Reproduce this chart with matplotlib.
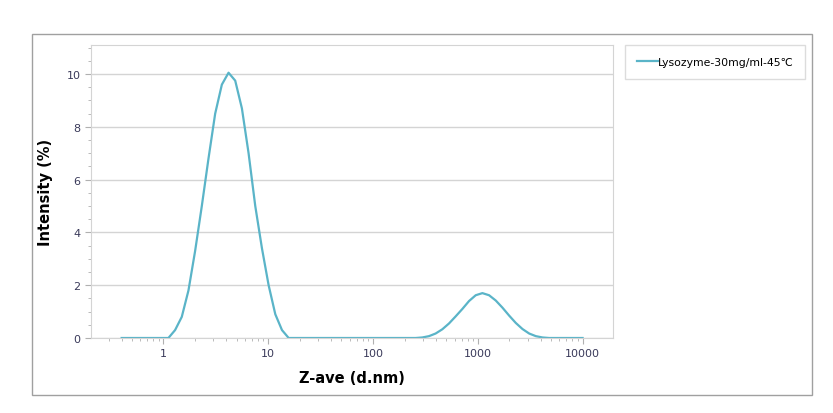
import matplotlib.pyplot as plt
import numpy as np
from matplotlib.patches import Rectangle
from matplotlib.ticker import FixedLocator, MultipleLocator

plt.rcParams['font.family'] = 'Noto Sans CJK SC'

# 70 size bins, 0.4 .. 10000 nm (instrument classes)
sizes = np.geomspace(0.4, 10000, 70)

peak1 = [0.0, 0.3, 0.8, 1.8, 3.3, 5.0, 6.8, 8.5, 9.6, 10.05, 9.75, 8.7,
         7.0, 5.0, 3.4, 2.0, 0.9, 0.3, 0.0]
peak2 = [0.0, 0.02, 0.07, 0.17, 0.33, 0.55, 0.82, 1.1, 1.4, 1.62, 1.7,
         1.62, 1.42, 1.15, 0.85, 0.57, 0.34, 0.17, 0.07, 0.02, 0.0]
intensity = [0.0] * 7 + peak1 + [0.0] * 18 + peak2 + [0.0] * 5

label = "Lysozyme-30mg/ml-45℃"
line_color = '#5ab4c8'
grid_color = '#d4d4d4'
tick_color = '#3a3a5a'

fig = plt.figure(figsize=(8.33, 4.14), dpi=100)
fig.patches.append(Rectangle((32 / 833, 18 / 414), 780 / 833, 361 / 414,
                             transform=fig.transFigure, fill=False,
                             ec='#a0a0a0', lw=1))

ax = fig.add_axes([91 / 833, 75 / 414, 522 / 833, 293 / 414])
ax.plot(sizes, intensity, color=line_color, lw=1.6)

ax.set_xscale('log')
ax.set_xlim(0.204, 19500)
ax.set_ylim(0, 11.1)
ax.xaxis.set_major_locator(FixedLocator([1, 10, 100, 1000, 10000]))
ax.set_xticklabels(['1', '10', '100', '1000', '10000'])
ax.yaxis.set_major_locator(MultipleLocator(2))
ax.yaxis.set_minor_locator(MultipleLocator(0.5))

ax.grid(axis='y', which='major', color=grid_color, lw=1)
for side in ['left', 'bottom', 'top', 'right']:
    ax.spines[side].set_color(grid_color)
ax.tick_params(which='both', colors='#b0b0b0', labelcolor=tick_color,
               labelsize=8)
ax.tick_params(which='major', length=4)
ax.tick_params(which='minor', length=2)

ax.set_xlabel("Z-ave (d.nm)", fontsize=10.5, fontweight='bold', labelpad=8)
ax.set_ylabel("Intensity (%)", fontsize=10.5, fontweight='bold', labelpad=10)

leg = fig.legend([ax.lines[0]], [label], loc='upper left',
                 bbox_to_anchor=(625 / 833, 1 - 46 / 414), fancybox=False,
                 edgecolor=grid_color, fontsize=7.8, handlelength=1.9,
                 handletextpad=0.0, borderpad=1.1, borderaxespad=0,
                 prop={'size': 7.8, 'weight': 'medium'})

fig.savefig('out.png', dpi=100)
